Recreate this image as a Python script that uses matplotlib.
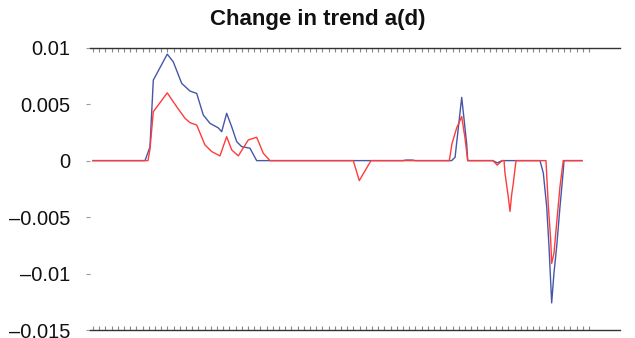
import matplotlib
matplotlib.use("Agg")
import matplotlib.pyplot as plt

plt.rcParams['font.family'] = ['Liberation Sans', 'DejaVu Sans']

# Blue series (sample index, value)
blue_x = [0, 8.39, 9.19, 9.73, 11.98, 12.95, 14.31, 15.65, 16.73, 17.79, 18.87,
          20.21, 20.76, 21.56, 22.37, 23.18, 23.98, 25.32, 26.4,
          50.0, 50.5, 51.5, 52.0,
          57.85, 58.4, 59.47, 60.27, 60.44,
          64.5, 65.2, 66.0,
          72.1, 72.63, 73.18, 73.55, 73.98, 74.35, 74.79, 75.32, 75.85, 75.97, 78.87]
blue_y = [0, 0, 0.0012, 0.00713, 0.00943, 0.00875, 0.00684, 0.00616, 0.00595, 0.00404, 0.0033,
          0.0029, 0.00256, 0.00419, 0.003, 0.00168, 0.00124, 0.0011, 0,
          0, 0.00005, 0.00005, 0,
          0, 0.0003, 0.0056, 0.0015, 0,
          0, -0.0002, 0,
          0, -0.0011, -0.0041, -0.0076, -0.0126, -0.00995, -0.0076, -0.0041, -0.0009, 0, 0]

# Red series (sample index, value)
red_x = [0, 8.87, 9.19, 9.73, 11.98, 13.5, 14.84, 15.65, 16.73, 18.06, 19.15,
         20.48, 21.56, 22.37, 23.44, 25.05, 26.4, 27.47, 28.55,
         41.98, 42.95, 44.84,
         57.47, 57.9, 58.66, 59.47, 60.0, 60.44,
         64.5, 65.2, 66.0,
         66.3, 66.45, 66.98, 67.26, 67.53, 67.79, 68.23,
         73.06, 73.44, 73.82, 73.98, 74.35, 74.79, 75.32, 75.85, 78.87]
red_y = [0, 0, 0.001, 0.00433, 0.006, 0.00477, 0.00375, 0.00336, 0.00315, 0.00139, 0.0008,
         0.00042, 0.00212, 0.00095, 0.00042, 0.00183, 0.00207, 0.00065, 0,
         0, -0.00177, 0,
         0, 0.0015, 0.0029, 0.0039, 0.002, 0,
         0, -0.0004, 0,
         0, -0.0011, -0.0032, -0.0045, -0.003, -0.002, 0,
         0, -0.004, -0.007, -0.0091, -0.0082, -0.0055, -0.0023, 0, 0]

y_ticks = [0.01, 0.005, 0, -0.005, -0.01, -0.015]
y_labels = ['0.01', '0.005', '0', '\u20130.005', '\u20130.01', '\u20130.015']
x_ticks = list(range(0, 81))

fig = plt.figure(figsize=(6.35, 3.38), dpi=100)
ax = fig.add_axes([90/635, 1-330/338, 530/635, (330-47.7)/338])

ax.plot(blue_x, blue_y, color='#4656a8', lw=1.0)
ax.plot(red_x, red_y, color='#ff3b3b', lw=1.0)

ax.set_xlim(-0.48, 85)
ax.set_ylim(-0.015, 0.01)

for s in ['left', 'right']:
    ax.spines[s].set_visible(False)
for s in ['top', 'bottom']:
    ax.spines[s].set_color('#333333')
    ax.spines[s].set_linewidth(1.0)

ax.set_xticks(x_ticks)
ax.tick_params(axis='x', which='both', direction='in', top=True, bottom=True,
               labelbottom=False, length=3, width=0.8, color='#888888')
ax.set_yticks(y_ticks)
ax.set_yticklabels(y_labels)
ax.tick_params(axis='y', direction='out', length=3, width=0.8, color='#999999',
               labelsize=14.5, pad=11, labelcolor='#111111')

fig.text(0.5, 1-20/338, 'Change in trend a(d)', ha='center', va='center',
         fontsize=16, fontweight='bold', color='#111111')

fig.savefig('out.png', dpi=100)
